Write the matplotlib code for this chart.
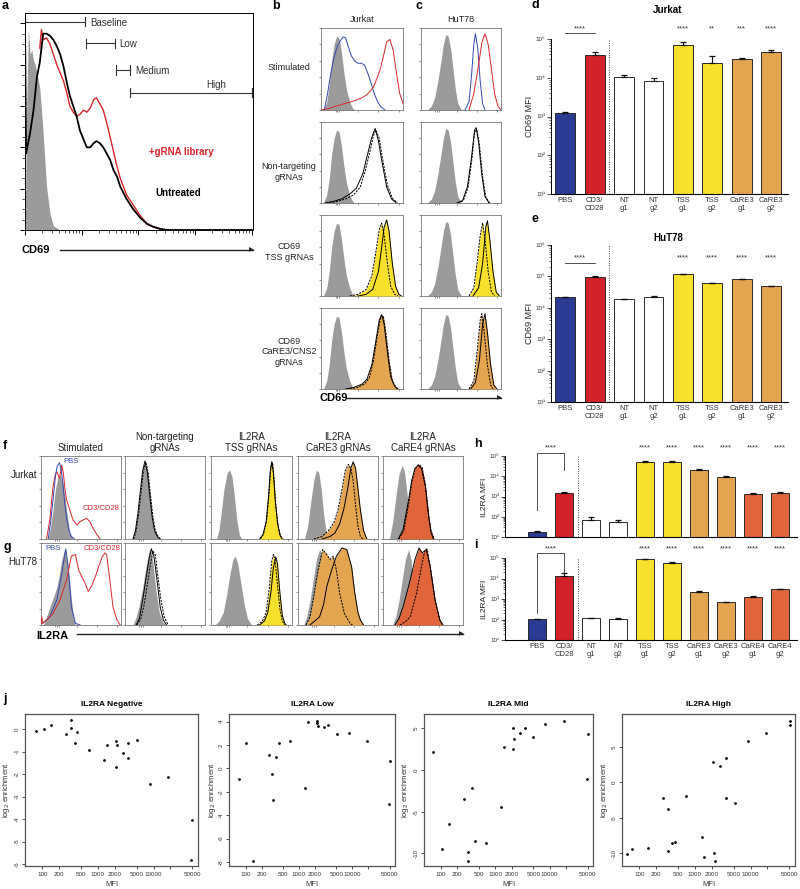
import numpy as np
import matplotlib.pyplot as plt
from matplotlib.ticker import FixedLocator, NullLocator, NullFormatter, LogLocator
from matplotlib.transforms import blended_transform_factory

plt.rcParams['font.family'] = ['Liberation Sans', 'DejaVu Sans']
plt.rcParams['axes.linewidth'] = 0.7

W, H = 800, 889

GREY = '#9b9b9b'
LBLUE = '#3548b0'
LRED = '#d9262b'
BLUE = '#2b3a92'
RED = '#d22128'
YELLOW = '#f8e12d'
ORANGE = '#e3a550'
RORANGE = '#e0653a'

##### data: panel a (x in decades, y in % of max)
a_grey = [(0, 0), (0.03, 60), (0.06, 97), (0.09, 85), (0.12, 87), (0.15, 82), (0.18, 80), (0.26, 69),
          (0.32, 47), (0.38, 21), (0.44, 8), (0.5, 2), (0.62, 0)]
a_black = [(0, 100), (0.02, 37), (0.09, 47), (0.15, 58), (0.21, 74), (0.26, 81), (0.32, 95), (0.38, 95),
           (0.44, 94), (0.5, 92), (0.56, 89), (0.62, 85), (0.68, 79), (0.74, 71), (0.79, 65), (0.85, 60),
           (0.91, 55), (0.97, 48), (1.03, 44), (1.09, 40), (1.15, 40), (1.21, 42), (1.26, 43), (1.32, 42),
           (1.38, 40), (1.44, 37), (1.5, 34), (1.56, 29), (1.62, 26), (1.68, 21), (1.79, 15), (1.91, 10),
           (2.03, 6), (2.15, 3), (2.26, 1.6), (2.38, 0.6), (2.5, 0), (4.0, 0)]
a_red = [(0.26, 88), (0.29, 97), (0.32, 92), (0.38, 93), (0.44, 90), (0.5, 85), (0.56, 80), (0.62, 76),
         (0.68, 72), (0.74, 66), (0.79, 60), (0.85, 57), (0.91, 55), (0.97, 56), (1.03, 58), (1.09, 57),
         (1.15, 59), (1.21, 63), (1.26, 64), (1.32, 61), (1.38, 58), (1.44, 52), (1.5, 45), (1.56, 38),
         (1.62, 31), (1.68, 25), (1.79, 17), (1.91, 12), (2.03, 7), (2.15, 3), (2.26, 1.5), (2.4, 0.3), (2.5, 0)]
gate_names = ['Baseline', 'Low', 'Medium', 'High']
gate_lo = [0.0, 1.08, 1.60, 1.86]
gate_hi = [1.06, 1.58, 1.86, 4.0]

##### data: panels b (Jurkat) and c (HuT78), box fractions
b_grey = [(0.03, 0), (0.07, 0.1), (0.1, 0.3), (0.13, 0.6), (0.16, 0.8), (0.19, 0.9), (0.22, 0.88), (0.25, 0.7),
          (0.28, 0.45), (0.31, 0.25), (0.35, 0.1), (0.38, 0.03), (0.41, 0)]
b1_blue = [(0.04, 0), (0.08, 0.2), (0.12, 0.45), (0.16, 0.65), (0.2, 0.78), (0.24, 0.85), (0.27, 0.89), (0.3, 0.88),
           (0.33, 0.78), (0.37, 0.66), (0.41, 0.6), (0.45, 0.57), (0.49, 0.57), (0.53, 0.55), (0.57, 0.45),
           (0.61, 0.33), (0.65, 0.2), (0.69, 0.1), (0.73, 0.04), (0.78, 0)]
b1_red = [(0.0, 0.0), (0.1, 0.02), (0.23, 0.06), (0.33, 0.09), (0.43, 0.12), (0.5, 0.15), (0.55, 0.18), (0.6, 0.23),
          (0.64, 0.28), (0.68, 0.38), (0.72, 0.49), (0.76, 0.65), (0.8, 0.83), (0.84, 0.86), (0.88, 0.73),
          (0.92, 0.45), (0.96, 0.2), (1.0, 0.08)]
b2_solid = [(0.05, 0), (0.15, 0.02), (0.25, 0.05), (0.35, 0.11), (0.43, 0.18), (0.51, 0.36), (0.57, 0.61),
            (0.62, 0.81), (0.66, 0.92), (0.7, 0.77), (0.74, 0.53), (0.8, 0.2), (0.86, 0.05), (0.92, 0)]
b2_dash = [(0.1, 0), (0.2, 0.02), (0.3, 0.05), (0.4, 0.1), (0.48, 0.2), (0.54, 0.4), (0.6, 0.65), (0.64, 0.83),
           (0.67, 0.9), (0.71, 0.8), (0.75, 0.55), (0.81, 0.22), (0.87, 0.06), (0.93, 0)]
b3_dash = [(0.35, 0), (0.45, 0.02), (0.55, 0.08), (0.62, 0.25), (0.67, 0.55), (0.71, 0.82), (0.74, 0.9),
           (0.77, 0.75), (0.81, 0.4), (0.85, 0.12), (0.9, 0.02), (0.94, 0)]
b3_solid = [(0.45, 0), (0.55, 0.02), (0.63, 0.08), (0.7, 0.3), (0.74, 0.6), (0.77, 0.85), (0.8, 0.94),
            (0.83, 0.8), (0.87, 0.4), (0.91, 0.12), (0.95, 0.02), (0.98, 0)]
b4_solid = [(0.3, 0), (0.4, 0.02), (0.5, 0.06), (0.56, 0.12), (0.62, 0.3), (0.67, 0.6), (0.71, 0.85),
            (0.74, 0.92), (0.77, 0.8), (0.81, 0.45), (0.85, 0.15), (0.9, 0.03), (0.94, 0)]
b4_dash = [(0.35, 0), (0.45, 0.02), (0.53, 0.06), (0.59, 0.14), (0.64, 0.35), (0.69, 0.68), (0.73, 0.9),
           (0.76, 0.9), (0.79, 0.7), (0.83, 0.35), (0.87, 0.1), (0.92, 0.01), (0.95, 0)]

c_grey = [(0.08, 0), (0.13, 0.05), (0.17, 0.15), (0.21, 0.35), (0.25, 0.6), (0.28, 0.8), (0.31, 0.92),
          (0.34, 0.9), (0.37, 0.75), (0.4, 0.5), (0.43, 0.25), (0.46, 0.08), (0.5, 0.01), (0.53, 0)]
c1_blue = [(0.55, 0), (0.6, 0.1), (0.63, 0.4), (0.66, 0.8), (0.68, 0.93), (0.71, 0.75), (0.74, 0.35),
           (0.77, 0.08), (0.8, 0)]
c1_red = [(0.6, 0), (0.66, 0.2), (0.72, 0.55), (0.76, 0.82), (0.8, 0.93), (0.84, 0.8), (0.88, 0.5),
          (0.92, 0.2), (0.96, 0.05), (1.0, 0)]
c2_solid = [(0.45, 0), (0.52, 0.03), (0.58, 0.2), (0.63, 0.55), (0.67, 0.9), (0.69, 0.93), (0.72, 0.75),
            (0.76, 0.35), (0.8, 0.08), (0.85, 0)]
c2_dash = [(0.46, 0), (0.53, 0.03), (0.59, 0.2), (0.64, 0.57), (0.67, 0.88), (0.7, 0.9), (0.73, 0.72),
           (0.77, 0.33), (0.81, 0.07), (0.86, 0)]
c3_dash = [(0.6, 0), (0.66, 0.1), (0.7, 0.4), (0.74, 0.75), (0.77, 0.9), (0.8, 0.7), (0.84, 0.3),
           (0.88, 0.05), (0.92, 0)]
c3_solid = [(0.65, 0), (0.72, 0.1), (0.77, 0.4), (0.81, 0.85), (0.83, 0.93), (0.86, 0.7), (0.9, 0.3),
            (0.94, 0.05), (0.98, 0)]
c4_dash = [(0.6, 0), (0.66, 0.1), (0.7, 0.45), (0.74, 0.85), (0.76, 0.93), (0.79, 0.7), (0.83, 0.3),
           (0.87, 0.05), (0.9, 0)]
c4_solid = [(0.62, 0), (0.68, 0.08), (0.73, 0.35), (0.77, 0.8), (0.8, 0.93), (0.83, 0.7), (0.87, 0.3),
            (0.91, 0.05), (0.95, 0)]

##### data: panels f (Jurkat) and g (HuT78), IL2RA
f1_grey = [(0.09, 0), (0.12, 0.15), (0.15, 0.35), (0.18, 0.6), (0.21, 0.74), (0.24, 0.77), (0.27, 0.7),
           (0.3, 0.5), (0.32, 0.35), (0.34, 0.2), (0.36, 0.07), (0.4, 0)]
f1_blue = [(0.09, 0), (0.12, 0.2), (0.15, 0.47), (0.18, 0.75), (0.2, 0.87), (0.23, 0.92), (0.25, 0.85),
           (0.27, 0.7), (0.3, 0.4), (0.32, 0.25), (0.35, 0.1), (0.38, 0.03), (0.42, 0)]
f1_red = [(0.07, 0), (0.11, 0.23), (0.15, 0.63), (0.18, 0.78), (0.2, 0.81), (0.23, 0.73), (0.26, 0.89),
          (0.28, 0.79), (0.3, 0.6), (0.32, 0.47), (0.36, 0.35), (0.4, 0.23), (0.45, 0.17), (0.49, 0.21),
          (0.53, 0.23), (0.57, 0.25), (0.61, 0.21), (0.65, 0.13), (0.7, 0.05), (0.74, 0)]
f2_grey = [(0.1, 0), (0.13, 0.1), (0.16, 0.3), (0.19, 0.55), (0.22, 0.8), (0.25, 0.93), (0.28, 0.8),
           (0.31, 0.55), (0.34, 0.28), (0.37, 0.1), (0.41, 0.02), (0.44, 0)]
f2_solid = [(0.1, 0), (0.13, 0.1), (0.16, 0.3), (0.19, 0.56), (0.22, 0.82), (0.25, 0.94), (0.28, 0.8),
            (0.31, 0.52), (0.34, 0.26), (0.37, 0.1), (0.41, 0.02), (0.44, 0)]
f2_dash = [(0.11, 0), (0.14, 0.1), (0.17, 0.3), (0.2, 0.56), (0.23, 0.82), (0.26, 0.93), (0.29, 0.8),
           (0.32, 0.52), (0.35, 0.26), (0.38, 0.1), (0.42, 0.02), (0.45, 0)]
f3_grey = [(0.07, 0), (0.1, 0.12), (0.13, 0.35), (0.16, 0.6), (0.2, 0.8), (0.23, 0.83), (0.26, 0.75),
           (0.29, 0.5), (0.32, 0.22), (0.35, 0.05), (0.38, 0)]
f3_solid = [(0.6, 0), (0.64, 0.05), (0.68, 0.2), (0.71, 0.5), (0.73, 0.8), (0.75, 0.93), (0.77, 0.8),
            (0.79, 0.5), (0.82, 0.2), (0.85, 0.05), (0.88, 0)]
f3_dash = [(0.61, 0), (0.65, 0.06), (0.69, 0.25), (0.72, 0.6), (0.74, 0.88), (0.76, 0.92), (0.78, 0.7),
           (0.8, 0.4), (0.83, 0.15), (0.86, 0.03), (0.89, 0)]
f4_grey = [(0.08, 0), (0.12, 0.15), (0.16, 0.45), (0.2, 0.72), (0.23, 0.83), (0.26, 0.8), (0.29, 0.6),
           (0.32, 0.3), (0.35, 0.1), (0.38, 0.02), (0.4, 0)]
f4_dash = [(0.2, 0), (0.3, 0.03), (0.38, 0.1), (0.45, 0.2), (0.5, 0.35), (0.55, 0.6), (0.59, 0.82),
           (0.63, 0.9), (0.66, 0.85), (0.69, 0.7), (0.72, 0.4), (0.75, 0.15), (0.78, 0.03), (0.81, 0)]
f4_solid = [(0.3, 0), (0.4, 0.03), (0.46, 0.07), (0.52, 0.18), (0.57, 0.35), (0.62, 0.6), (0.66, 0.85),
            (0.69, 0.93), (0.72, 0.85), (0.75, 0.6), (0.78, 0.35), (0.82, 0.1), (0.86, 0)]
f5_grey = [(0.08, 0), (0.12, 0.2), (0.16, 0.5), (0.2, 0.78), (0.24, 0.89), (0.27, 0.8), (0.3, 0.55),
           (0.33, 0.3), (0.36, 0.1), (0.4, 0)]
f5_solid = [(0.19, 0), (0.25, 0.11), (0.32, 0.47), (0.36, 0.71), (0.4, 0.85), (0.44, 0.89), (0.48, 0.85),
            (0.53, 0.63), (0.57, 0.27), (0.6, 0.08), (0.63, 0)]
f5_dash = [(0.2, 0), (0.26, 0.1), (0.32, 0.42), (0.36, 0.68), (0.4, 0.84), (0.45, 0.9), (0.49, 0.86),
           (0.53, 0.65), (0.57, 0.3), (0.6, 0.1), (0.64, 0)]

g1_grey = [(0.03, 0), (0.07, 0.1), (0.11, 0.22), (0.16, 0.35), (0.2, 0.47), (0.23, 0.62), (0.26, 0.8),
           (0.3, 0.94), (0.34, 0.71), (0.38, 0.31), (0.41, 0.08), (0.43, 0)]
g1_blue = [(0.02, 0.02), (0.11, 0.1), (0.2, 0.31), (0.26, 0.63), (0.31, 0.93), (0.34, 0.71), (0.38, 0.22),
           (0.43, 0.02), (0.49, 0)]
g1_red = [(0.0, 0.0), (0.01, 0.1), (0.02, 0.02), (0.07, 0.06), (0.15, 0.14), (0.24, 0.31), (0.32, 0.55),
          (0.38, 0.84), (0.43, 0.86), (0.47, 0.67), (0.51, 0.59), (0.55, 0.51), (0.59, 0.41), (0.63, 0.47),
          (0.68, 0.59), (0.72, 0.71), (0.76, 0.82), (0.8, 0.88), (0.82, 0.86), (0.86, 0.55), (0.9, 0.22),
          (0.95, 0.06), (0.99, 0)]
g2_grey = [(0.1, 0), (0.14, 0.1), (0.18, 0.25), (0.22, 0.45), (0.26, 0.7), (0.3, 0.9), (0.32, 0.93),
           (0.35, 0.75), (0.39, 0.4), (0.43, 0.15), (0.47, 0.04), (0.51, 0)]
g2_solid = [(0.14, 0), (0.18, 0.08), (0.22, 0.3), (0.26, 0.55), (0.3, 0.8), (0.33, 0.93), (0.36, 0.85),
            (0.4, 0.55), (0.44, 0.22), (0.48, 0.06), (0.52, 0)]
g2_dash = [(0.15, 0), (0.2, 0.08), (0.24, 0.25), (0.28, 0.5), (0.32, 0.75), (0.35, 0.9), (0.38, 0.85),
           (0.41, 0.6), (0.45, 0.3), (0.49, 0.1), (0.54, 0)]
g3_grey = [(0.05, 0), (0.1, 0.05), (0.15, 0.15), (0.19, 0.35), (0.23, 0.6), (0.27, 0.8), (0.3, 0.84),
           (0.33, 0.75), (0.37, 0.5), (0.41, 0.25), (0.45, 0.08), (0.5, 0)]
g3_dash = [(0.57, 0), (0.63, 0.04), (0.68, 0.15), (0.72, 0.45), (0.75, 0.78), (0.77, 0.86), (0.79, 0.8),
           (0.82, 0.5), (0.85, 0.2), (0.88, 0.05), (0.91, 0)]
g3_solid = [(0.6, 0), (0.66, 0.05), (0.7, 0.15), (0.74, 0.4), (0.77, 0.7), (0.8, 0.83), (0.82, 0.75),
            (0.85, 0.4), (0.88, 0.12), (0.91, 0.02), (0.93, 0)]
g4_grey = [(0.07, 0), (0.11, 0.1), (0.15, 0.3), (0.19, 0.55), (0.23, 0.8), (0.27, 0.92), (0.3, 0.85),
           (0.34, 0.6), (0.38, 0.3), (0.42, 0.08), (0.45, 0)]
g4_dash = [(0.1, 0), (0.15, 0.1), (0.19, 0.31), (0.25, 0.67), (0.31, 0.92), (0.36, 0.86), (0.4, 0.8),
           (0.44, 0.84), (0.48, 0.67), (0.52, 0.39), (0.58, 0.14), (0.65, 0.02), (0.68, 0)]
g4_solid = [(0.15, 0), (0.27, 0.1), (0.32, 0.25), (0.36, 0.47), (0.42, 0.67), (0.48, 0.84), (0.55, 0.94),
            (0.61, 0.92), (0.67, 0.71), (0.71, 0.39), (0.75, 0.15), (0.78, 0.06), (0.82, 0)]
g5_grey = [(0.12, 0), (0.16, 0.1), (0.2, 0.3), (0.24, 0.55), (0.28, 0.8), (0.32, 0.92), (0.35, 0.8),
           (0.38, 0.5), (0.41, 0.2), (0.44, 0.05), (0.47, 0)]
g5_solid = [(0.15, 0), (0.2, 0.08), (0.25, 0.22), (0.3, 0.4), (0.34, 0.55), (0.4, 0.8), (0.45, 0.94),
            (0.49, 0.88), (0.54, 0.92), (0.59, 0.71), (0.65, 0.31), (0.71, 0.06), (0.75, 0)]
g5_dash = [(0.21, 0), (0.28, 0.04), (0.34, 0.1), (0.42, 0.39), (0.48, 0.71), (0.52, 0.9), (0.55, 0.93),
           (0.59, 0.71), (0.65, 0.31), (0.71, 0.06), (0.75, 0)]

##### data: bar charts
de_labels = ['PBS', 'CD3/\nCD28', 'NT\ng1', 'NT\ng2', 'TSS\ng1', 'TSS\ng2', 'CaRE3\ng1', 'CaRE3\ng2']
hi_labels = de_labels + ['CaRE4\ng1', 'CaRE4\ng2']
d_mfi = [1200, 39000, 10700, 8300, 70000, 24500, 30000, 47000]
d_err = [80, 8000, 800, 1500, 16000, 12500, 2000, 5000]
d_stars = ['', '', '', '', '****', '**', '***', '****']
e_mfi = [21500, 98000, 19000, 22000, 117000, 60000, 81000, 48000]
e_err = [1000, 3000, 600, 1500, 2000, 1500, 2000, 1000]
e_stars = ['', '', '', '', '****', '****', '****', '****']
h_mfi = [18, 1450, 69, 57, 52000, 52000, 20000, 9600, 1330, 1550]
h_err = [1, 150, 24, 12, 6000, 2000, 2000, 800, 150, 150]
i_mfi = [103, 13000, 115, 105, 87000, 59000, 2300, 690, 1300, 2950]
i_err = [5, 5000, 10, 8, 3000, 2000, 100, 40, 120, 150]
hi_stars = ['', '', '', '', '****', '****', '****', '****', '****', '****']
de_colors = [BLUE, RED, 'white', 'white', YELLOW, YELLOW, ORANGE, ORANGE]
hi_colors = de_colors + [RORANGE, RORANGE]

##### data: panel j scatter
jn_mfi = [76, 109, 141, 270, 324, 324, 381, 426, 691, 1290, 1450, 2090, 2090, 2240, 2860, 3470, 3470, 5040,
          8500, 18200, 48800, 47000]
jn_enr = [-0.07, 0, 0.19, -0.22, 0.42, 0.04, -0.63, -0.15, -0.92, -1.37, -0.71, -0.52, -1.7, -0.7, -1.04,
          -0.61, -1.29, -0.48, -2.46, -2.11, -4.05, -5.83]
jl_mfi = [74, 104, 138, 270, 316, 323, 380, 426, 689, 1310, 1480, 2180, 2180, 2250, 2890, 3560, 5200, 8800,
          18700, 50000, 48500]
jl_enr = [-0.91, 2.14, -7.9, 1.14, -0.43, -2.71, 0.94, 2.14, 2.37, -1.66, 4.0, 4.06, 3.86, 3.63, 3.57, 3.69,
          2.91, 3.03, 2.34, 0.63, -3.0]
jm_mfi = [73, 104, 140, 265, 322, 322, 380, 418, 680, 1270, 1450, 2130, 2130, 2230, 2830, 3480, 5040, 8400,
          18200, 48600, 50000]
jm_enr = [2.2, -9.48, -6.48, -3.52, -9.8, -10.9, -2.2, -8.48, -8.72, -4.4, 2.8, 5.0, 2.48, 3.72, 4.4, 5.04,
          4.0, 5.52, 5.88, -1.12, 4.32]
jh_mfi = [60, 74, 144, 270, 332, 323, 387, 433, 696, 1320, 1480, 2130, 2190, 2270, 2880, 3560, 3560, 5260,
          8840, 19000, 50400, 52000]
jh_enr = [-10.05, -9.34, -9.25, -2.17, -9.67, -3.68, -8.54, -8.4, -1.89, -7.69, -10.5, 2.83, -9.95, -11.1,
          2.36, 3.4, -2.26, -2.88, 5.9, 6.93, 8.11, 8.73]
j_ticks = [100, 200, 500, 1000, 2000, 5000, 10000, 20000, 50000]
j_tick_labels = ['100', '200', '500', '1000', '2000', '5000', '10000', '', '50000']

fig = plt.figure(figsize=(W / 100, H / 100), dpi=100)


def px_axes(x0, y0, x1, y1):
    # axes from pixel box (origin top-left)
    return fig.add_axes([x0 / W, 1 - y1 / H, (x1 - x0) / W, (y1 - y0) / H])


def ptext(x, y, s, **kw):
    fig.text(x / W, 1 - y / H, s, **kw)


def arrow(x0, x1, y):
    fig.add_artist(plt.Line2D([x0 / W, x1 / W], [1 - y / H, 1 - y / H], color='#222', lw=1.0))
    ptext(x1 + 1, y, '\u25b6', ha='right', va='center', fontsize=4.5, color='#222')


def curve(ax, pts, fill=None, line=None, ls='-', lw=0.8, z=2):
    xs = [p[0] for p in pts]
    ys = [p[1] for p in pts]
    if fill:
        ax.fill_between(xs, ys, 0, color=fill, lw=0, zorder=z)
    if line:
        ax.plot(xs, ys, color=line, ls=ls, lw=lw, zorder=z + 0.5)


def hist_axes(x0, y0, x1, y1):
    ax = px_axes(x0, y0, x1, y1)
    ax.set_xlim(0, 1)
    ax.set_ylim(0, 1)
    ax.set_yticks([0, 0.2, 0.4, 0.6, 0.8, 1.0])
    ax.set_xticks([0.18, 0.2, 0.22, 0.45, 0.7, 0.95])
    ax.tick_params(length=1.6, width=0.5, colors='#666', labelleft=False, labelbottom=False)
    for s in ax.spines.values():
        s.set_linewidth(0.6)
        s.set_color('#777')
    return ax


DASH = (0, (2.2, 1.2))

##### panel a
ax = px_axes(25, 13, 253, 230)
curve(ax, a_grey, fill=GREY, z=1)
curve(ax, a_red, line=LRED, lw=1.0, z=2)
curve(ax, a_black, line='black', lw=1.3, z=3)
ax.set_xlim(0, 4.02)
ax.set_ylim(0, 105)
ax.set_yticks([0, 20, 40, 60, 80, 100])
ax.set_yticks(np.arange(0, 101, 5), minor=True)
ax.set_xticks([0, 1, 2, 3, 4])
ax.set_xticks([d + np.log10(k) for d in range(4) for k in range(2, 10)], minor=True)
ax.tick_params(which='major', length=3.5, width=0.7, labelleft=False, labelbottom=False)
ax.tick_params(which='minor', length=2, width=0.5)
gate_y = [100.8, 90.3, 77.4, 66.5]
for name, lo, hi, gy in zip(gate_names, gate_lo, gate_hi, gate_y):
    ax.plot([lo, hi], [gy, gy], color='#333', lw=0.8, clip_on=False)
    ax.plot([hi, hi], [gy - 2.3, gy + 2.3], color='#333', lw=0.8, clip_on=False)
    if lo > 0:
        ax.plot([lo, lo], [gy - 2.3, gy + 2.3], color='#333', lw=0.8)
    if name == 'High':
        ax.text(3.37, gy + 3.8, name, fontsize=7, color='#333', ha='center', va='center')
    else:
        ax.text(hi + 0.09, gy - 0.5, name, fontsize=7, color='#333', ha='left', va='center')
ax.text(2.18, 37.9, '+gRNA library', color=LRED, fontsize=7, fontweight='bold', va='center')
ax.text(2.29, 17.7, 'Untreated', color='black', fontsize=7, fontweight='bold', va='center')
ptext(2, 6, 'a', fontsize=9, fontweight='bold', va='center')
ptext(21, 250, 'CD69', fontsize=8, fontweight='bold', va='center')
arrow(60, 253, 250)

##### panels b, c
rows = [(28, 110), (122, 203), (215, 296), (308, 389)]
b_sets = [
    [(b_grey, GREY, None, '-'), (b1_blue, None, LBLUE, '-'), (b1_red, None, LRED, '-')],
    [(b_grey, GREY, None, '-'), (b2_dash, None, 'black', DASH), (b2_solid, None, 'black', '-')],
    [(b_grey, GREY, None, '-'), (b3_dash, YELLOW, 'black', DASH), (b3_solid, YELLOW, 'black', '-')],
    [(b_grey, GREY, None, '-'), (b4_dash, ORANGE, 'black', DASH), (b4_solid, ORANGE, 'black', '-')],
]
c_sets = [
    [(c_grey, GREY, None, '-'), (c1_blue, None, LBLUE, '-'), (c1_red, None, LRED, '-')],
    [(c_grey, GREY, None, '-'), (c2_dash, None, 'black', DASH), (c2_solid, None, 'black', '-')],
    [(c_grey, GREY, None, '-'), (c3_dash, YELLOW, 'black', DASH), (c3_solid, YELLOW, 'black', '-')],
    [(c_grey, GREY, None, '-'), (c4_dash, ORANGE, 'black', DASH), (c4_solid, ORANGE, 'black', '-')],
]
for (x0, x1), sets in [((321, 403), b_sets), ((421, 501), c_sets)]:
    for (y0, y1), curves in zip(rows, sets):
        ax = hist_axes(x0, y0, x1, y1)
        for k, (pts, fc, lc, ls) in enumerate(curves):
            if fc:
                curve(ax, pts, fill=fc, z=1 + k)
        for k, (pts, fc, lc, ls) in enumerate(curves):
            if lc:
                curve(ax, pts, line=lc, ls=ls, lw=0.7, z=4 + k)

row_names = ['Stimulated', 'Non-targeting\ngRNAs', 'CD69\nTSS gRNAs', 'CD69\nCaRE3/CNS2\ngRNAs']
row_y = [68, 172, 252, 352]
for name, ry in zip(row_names, row_y):
    ptext(289, ry, name, fontsize=6.5, ha='center', va='center', linespacing=1.25, color='#222')
ptext(272, 6, 'b', fontsize=9, fontweight='bold', va='center')
ptext(415, 6, 'c', fontsize=9, fontweight='bold', va='center')
ptext(362, 20, 'Jurkat', fontsize=6.5, ha='center', va='center', color='#222')
ptext(461, 20, 'HuT78', fontsize=6.5, ha='center', va='center', color='#222')
ptext(319, 398, 'CD69', fontsize=8, fontweight='bold', va='center')
arrow(347, 501, 398)

##### panels f, g
cols = [(41, 121), (125, 205), (211, 292), (298, 378), (383, 463)]
f_sets = [
    [(f1_grey, GREY, None, '-'), (f1_red, None, LRED, '-'), (f1_blue, None, LBLUE, '-')],
    [(f2_grey, GREY, None, '-'), (f2_dash, None, 'black', DASH), (f2_solid, None, 'black', '-')],
    [(f3_grey, GREY, None, '-'), (f3_dash, YELLOW, 'black', DASH), (f3_solid, YELLOW, 'black', '-')],
    [(f4_grey, GREY, None, '-'), (f4_dash, ORANGE, 'black', DASH), (f4_solid, ORANGE, 'black', '-')],
    [(f5_grey, GREY, None, '-'), (f5_dash, RORANGE, 'black', DASH), (f5_solid, RORANGE, 'black', '-')],
]
g_sets = [
    [(g1_grey, GREY, None, '-'), (g1_blue, None, LBLUE, '-'), (g1_red, None, LRED, '-')],
    [(g2_grey, GREY, None, '-'), (g2_dash, None, 'black', DASH), (g2_solid, None, 'black', '-')],
    [(g3_grey, GREY, None, '-'), (g3_dash, YELLOW, 'black', DASH), (g3_solid, YELLOW, 'black', '-')],
    [(g4_grey, GREY, None, '-'), (g4_dash, ORANGE, 'black', DASH), (g4_solid, ORANGE, 'black', '-')],
    [(g5_grey, GREY, None, '-'), (g5_dash, RORANGE, 'black', DASH), (g5_solid, RORANGE, 'black', '-')],
]
fg_axes = []
for (y0, y1), sets in [((456, 539), f_sets), ((543, 625), g_sets)]:
    row_axes = []
    for (x0, x1), curves in zip(cols, sets):
        ax = hist_axes(x0, y0, x1, y1)
        for k, (pts, fc, lc, ls) in enumerate(curves):
            if fc:
                curve(ax, pts, fill=fc, z=1 + k)
        for k, (pts, fc, lc, ls) in enumerate(curves):
            if lc:
                curve(ax, pts, line=lc, ls=ls, lw=0.7, z=4 + k)
        row_axes.append(ax)
    fg_axes.append(row_axes)
fg_axes[0][0].text(0.28, 0.93, 'PBS', color=LBLUE, fontsize=5.5, va='center')
fg_axes[0][0].text(0.52, 0.37, 'CD3/CD28', color=LRED, fontsize=5.5, va='center')
fg_axes[1][0].text(0.05, 0.93, 'PBS', color=LBLUE, fontsize=5.5, va='center')
fg_axes[1][0].text(0.53, 0.93, 'CD3/CD28', color=LRED, fontsize=5.5, va='center')

col_titles = ['Stimulated', 'Non-targeting\ngRNAs', 'IL2RA\nTSS gRNAs', 'IL2RA\nCaRE3 gRNAs', 'IL2RA\nCaRE4 gRNAs']
for (x0, x1), t in zip(cols, col_titles):
    ptext((x0 + x1) / 2, 453, t, fontsize=7, ha='center', va='bottom', linespacing=1.15, color='#222')
ptext(37, 475, 'Jurkat', fontsize=7, ha='right', va='center', color='#222')
ptext(37, 562, 'HuT78', fontsize=7, ha='right', va='center', color='#222')
ptext(3, 446, 'f', fontsize=9, fontweight='bold', va='center')
ptext(3, 547, 'g', fontsize=9, fontweight='bold', va='center')
ptext(36, 636, 'IL2RA', fontsize=8, fontweight='bold', va='center')
arrow(77, 463, 634)


##### bar panels d, e, h, i
def bar_panel(x0, y0, x1, y1, c0, step, vals, errs, colors, labels, decades):
    ax = px_axes(x0, y0, x1, y1)
    n = len(vals)
    pos = np.arange(n)
    ax.set_yscale('log')
    ax.bar(pos, np.array(vals) - 10, bottom=10, width=0.68, color=colors, edgecolor='#2a2a2a',
           linewidth=0.7, zorder=2)
    ax.errorbar(pos, vals, yerr=[np.zeros(n), errs], fmt='none', ecolor='#111', elinewidth=0.8,
                capsize=2.2, capthick=0.9, zorder=3)
    ax.set_ylim(10, 10 ** decades)
    ax.set_xlim((x0 - c0) / step, (x1 - c0) / step)
    for s in ['top', 'right']:
        ax.spines[s].set_visible(False)
    ax.spines['left'].set_linewidth(0.7)
    ax.spines['bottom'].set_linewidth(0.8)
    ax.yaxis.set_major_locator(FixedLocator([10.0 ** k for k in range(1, decades + 1)]))
    ax.set_yticklabels(['10' + '\u00b9\u00b2\u00b3\u2074\u2075\u2076'[k - 1] for k in range(1, decades + 1)])
    ax.yaxis.set_minor_locator(LogLocator(base=10, subs=np.arange(2, 10), numticks=20))
    ax.yaxis.set_minor_formatter(NullFormatter())
    ax.tick_params(axis='y', which='major', length=3, width=0.6, labelsize=4.5, pad=1, colors='#333')
    ax.tick_params(axis='y', which='minor', length=1.8, width=0.4)
    ax.set_xticks(pos)
    if labels:
        ax.set_xticklabels(labels, fontsize=5.5, linespacing=1.1, color='#333')
    else:
        ax.set_xticklabels([])
    ax.tick_params(axis='x', length=0, pad=2.5)
    ax.axvline(1.5, ls=(0, (1, 1.5)), color='#444', lw=0.7)
    return ax


def bar_marks(ax, stars, star_py, bracket_py, legs):
    tr = blended_transform_factory(ax.transData, fig.transFigure)
    for k, s in enumerate(stars):
        if s:
            ax.text(k, 1 - star_py / H, s, transform=tr, ha='center', va='center', fontsize=5.5, color='#333')
    ax.text(0.5, 1 - star_py / H, '****', transform=tr, ha='center', va='center', fontsize=5.5, color='#333')
    ys = [1 - legs[0] / H, 1 - bracket_py / H, 1 - bracket_py / H, 1 - legs[1] / H]
    ax.plot([0, 0, 1, 1], ys, transform=tr, color='#333', lw=0.6, clip_on=False)


axd = bar_panel(551, 39, 788, 194, 565.3, 29.4, d_mfi, d_err, de_colors, de_labels, 5)
bar_marks(axd, d_stars, 29, 33, (33, 33))
axe = bar_panel(551, 245, 788, 402, 565.3, 29.4, e_mfi, e_err, de_colors, de_labels, 6)
bar_marks(axe, e_stars, 258, 263, (263, 263))
axh = bar_panel(505, 456, 797, 537, 537, 27, h_mfi, h_err, hi_colors, None, 5)
bar_marks(axh, hi_stars, 448, 453, (510, 470))
axi = bar_panel(505, 558, 797, 640, 537, 27, i_mfi, i_err, hi_colors, hi_labels, 5)
bar_marks(axi, hi_stars, 549, 553, (613, 572))

ptext(668, 10, 'Jurkat', fontsize=7, fontweight='bold', ha='center', va='center')
ptext(668, 238, 'HuT78', fontsize=7, fontweight='bold', ha='center', va='center')
ptext(529, 116, 'CD69 MFI', fontsize=6.5, rotation=90, ha='center', va='center', color='#222')
ptext(529, 323, 'CD69 MFI', fontsize=6.5, rotation=90, ha='center', va='center', color='#222')
ptext(485, 497, 'IL2RA MFI', fontsize=6, rotation=90, ha='center', va='center', color='#222')
ptext(485, 599, 'IL2RA MFI', fontsize=6, rotation=90, ha='center', va='center', color='#222')
ptext(531, 5, 'd', fontsize=9, fontweight='bold', va='center')
ptext(531, 219, 'e', fontsize=9, fontweight='bold', va='center')
ptext(474, 444, 'h', fontsize=9, fontweight='bold', va='center')
ptext(474, 545, 'i', fontsize=9, fontweight='bold', va='center')


##### panel j
def r_panel(x0, x1, mfi, enr, title, ylim, yt, ylab_x):
    ax = px_axes(x0, 714, x1, 866)
    ax.set_xscale('log')
    ax.scatter(mfi, enr, s=4, c='black', lw=0, zorder=3)
    ax.set_xlim(49, 63000)
    ax.set_ylim(*ylim)
    ax.xaxis.set_major_locator(FixedLocator(j_ticks))
    ax.xaxis.set_minor_locator(NullLocator())
    ax.set_xticklabels(j_tick_labels)
    ax.set_yticks(yt)
    ax.set_yticklabels([str(v) for v in yt], rotation=90, va='center')
    ax.tick_params(length=2.5, width=0.6, labelsize=4.5, pad=1.5, colors='#333')
    for s in ax.spines.values():
        s.set_linewidth(0.9)
        s.set_color('#555')
    ptext((x0 + x1) / 2, 705, title, fontsize=6, fontweight='bold', ha='center', va='center')
    ptext((x0 + x1) / 2, 884, 'MFI', fontsize=5.5, ha='center', va='center', color='#333')
    ptext(ylab_x, 790, 'log$_2$ enrichment', fontsize=5.5, rotation=90, ha='center', va='center', color='#333')
    return ax


r_panel(25, 198, jn_mfi, jn_enr, 'IL2RA Negative', (-6.08, 0.67), [0, -1, -2, -3, -4, -5, -6], 7)
r_panel(229, 395, jl_mfi, jl_enr, 'IL2RA Low', (-8.34, 4.66), [4, 2, 0, -2, -4, -6, -8], 212)
r_panel(424, 593, jm_mfi, jm_enr, 'IL2RA Mid', (-11.5, 6.7), [5, 0, -5, -10], 406)
r_panel(622, 795, jh_mfi, jh_enr, 'IL2RA High', (-11.8, 9.67), [5, 0, -5, -10], 605)
ptext(3, 699, 'j', fontsize=9, fontweight='bold', va='center')

fig.savefig('out.png', dpi=100)
